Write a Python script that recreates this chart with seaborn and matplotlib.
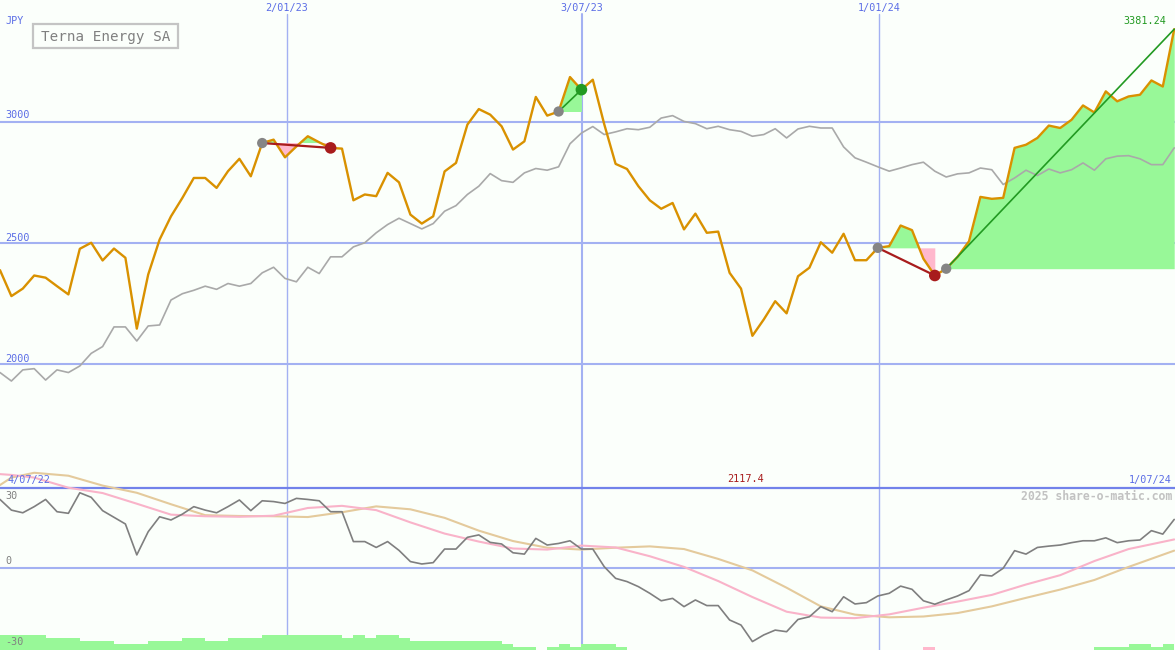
import matplotlib
matplotlib.use("Agg")
import matplotlib.pyplot as plt
from matplotlib.patches import Rectangle
import numpy as np
import seaborn as sns

# weekly closes, 4/07/22 .. 1/07/24 (JPY)
price = [2388, 2281, 2312, 2366, 2357, 2322, 2288, 2476, 2501, 2428,
         2477, 2439, 2147, 2370, 2514, 2610, 2686, 2768, 2768, 2727,
         2796, 2847, 2775, 2912, 2926, 2853, 2898, 2940, 2915, 2892,
         2889, 2676, 2700, 2693, 2789, 2750, 2617, 2580, 2610, 2795,
         2830, 2988, 3052, 3029, 2981, 2885, 2919, 3102, 3025, 3042,
         3184, 3132, 3173, 2990, 2826, 2805, 2734, 2676, 2641, 2665,
         2556, 2621, 2542, 2547, 2377, 2312, 2117.4, 2185, 2260, 2210,
         2363, 2398, 2503, 2460, 2538, 2429, 2429, 2480, 2487, 2572,
         2553, 2435, 2366, 2394, 2443, 2507, 2690, 2682, 2686, 2892,
         2905, 2933, 2984, 2974, 3008, 3067, 3038, 3125, 3084, 3104,
         3111, 3170, 3145, 3381.24]

# comparison index, rescaled to the price axis
index_line = [1966, 1931, 1977, 1982, 1935, 1977, 1966, 1993, 2045, 2073,
              2154, 2154, 2096, 2158, 2162, 2265, 2291, 2305, 2322, 2309,
              2333, 2322, 2333, 2377, 2400, 2354, 2340, 2400, 2374, 2443,
              2443, 2484, 2501, 2542, 2576, 2602, 2580, 2558, 2580, 2631,
              2654, 2700, 2734, 2786, 2757, 2750, 2789, 2807, 2800, 2814,
              2909, 2953, 2980, 2947, 2958, 2971, 2967, 2977, 3015, 3025,
              3001, 2992, 2971, 2981, 2967, 2960, 2940, 2947, 2971, 2933,
              2970, 2981, 2974, 2974, 2896, 2851, 2833, 2814, 2796, 2809,
              2823, 2833, 2796, 2772, 2785, 2789, 2809, 2802, 2741, 2768,
              2800, 2778, 2805, 2789, 2802, 2830, 2800, 2847, 2858, 2860,
              2847, 2823, 2823, 2892]

# lower panel
momentum = [25.6, 21.6, 20.6, 22.9, 25.6, 21.0, 20.4, 28.1, 26.4, 21.4,
            18.9, 16.4, 4.8, 13.5, 19.1, 17.9, 20.1, 22.9, 21.6, 20.6,
            22.9, 25.4, 21.4, 25.1, 24.8, 24.1, 26.0, 25.6, 25.1, 21.0,
            21.0, 9.8, 9.8, 7.6, 9.8, 6.5, 2.3, 1.4, 1.9, 7.0,
            7.0, 11.4, 12.3, 9.5, 8.9, 5.6, 5.1, 11.0, 8.5, 9.1,
            10.1, 7.0, 7.0, 0.4, -4.0, -5.2, -7.1, -9.6, -12.4, -11.5,
            -14.6, -12.1, -14.2, -14.2, -19.6, -21.5, -27.7, -25.2, -23.4, -24.0,
            -19.4, -18.4, -14.6, -16.5, -10.9, -13.6, -13.1, -10.6, -9.6, -6.9,
            -8.1, -12.4, -13.7, -12.1, -10.6, -8.6, -2.7, -3.1, -0.2, 6.4,
            5.1, 7.6, 8.1, 8.5, 9.4, 10.1, 10.1, 11.2, 9.4, 10.1,
            10.4, 13.9, 12.6, 18.1]

ma_weeks = [0, 1, 3, 6, 9, 12, 15, 18, 21, 24, 27, 30, 33, 36, 39, 42, 45, 48,
            51, 54, 57, 60, 63, 66, 69, 72, 75, 78, 81, 84, 87, 90, 93, 96,
            99, 103]
ma_fast = [35.1, 34.8, 33.8, 30.0, 28.0, 24.0, 19.9, 19.3, 19.1, 19.5, 22.4,
           23.2, 21.6, 17.0, 12.8, 9.8, 7.2, 6.8, 8.3, 7.6, 4.3, 0.3, -5.0,
           -11.0, -16.5, -18.7, -18.9, -17.5, -15.0, -12.7, -10.2, -6.3, -2.8,
           2.5, 7.0, 10.6]
ma_slow = [31.0, 33.8, 35.6, 34.5, 30.8, 28.1, 23.8, 19.7, 19.4, 19.3, 19.0,
           20.8, 23.0, 21.9, 18.7, 13.9, 10.0, 7.5, 6.8, 7.5, 8.0, 7.0, 3.3,
           -1.0, -7.5, -14.5, -17.6, -18.6, -18.3, -17.0, -14.5, -11.3, -8.2,
           -4.6, 0.3, 6.4]

green_bar_weeks = list(range(0, 47)) + [48, 49, 50, 51, 52, 53, 54,
                                        96, 97, 98, 99, 100, 101, 102]
green_bar_tops = ([-25.2] * 4 + [-26.3] * 3 + [-27.5] * 3 + [-28.6] * 3
                  + [-27.5] * 3 + [-26.3] * 2 + [-27.5] * 2 + [-26.3] * 3
                  + [-25.2] * 7 + [-26.3, -25.2, -26.3, -25.2, -25.2, -26.3]
                  + [-27.5] * 8 + [-28.6, -29.9, -29.9]
                  + [-29.9, -28.6, -29.9, -28.6, -28.6, -28.6, -29.9]
                  + [-29.9, -29.9, -29.9, -28.6, -28.6, -29.9, -28.6])
pink_bar_weeks = [81]
pink_bar_tops = [-29.9]

# (start week, end week) of the marked moves
trades = [(23, 29), (49, 51), (77, 82), (83, 103)]

month_marks = [25.18, 51.05, 77.13]
month_labels = ["2/01/23", "3/07/23", "1/01/24"]
month_widths = [1.0, 1.5, 1.0]
price_grid = [2000, 2500, 3000]

W, H = 1175, 650
BG = "#fbfffb"
GRID = "#a3b1f2"
BLUE_TXT = "#5b6de6"
GREEN_FILL = "#98f898"
PINK_FILL = "#ffb8cc"
DARK_RED = "#a81c1c"
DARK_GREEN = "#229a22"

sns.set_style("white")
plt.rcParams["font.family"] = ["DejaVu Sans Mono", "DejaVu Sans"]

weeks = np.arange(len(price))
price_arr = np.array(price, dtype=float)


def fp(x, y):
    """pixel -> figure fraction"""
    return x / W, 1 - y / H


fig = plt.figure(figsize=(W / 100, H / 100), dpi=100, facecolor=BG)
ax = fig.add_axes([0, 0, 1, 1])
ax.set_axis_off()
low = fig.add_axes([0, 0, 1, 1], sharex=ax)
low.set_axis_off()

# grid
for g in price_grid:
    ax.axhline(g, color=GRID, lw=1.5, zorder=1)
for m, lw in zip(month_marks, month_widths):
    ax.axvline(m, ymax=1 - 14 / H, color=GRID, lw=lw, zorder=1)
low.axhline(30, color="#7282ea", lw=1.6, zorder=1)
low.axhline(0, color=GRID, lw=1.5, zorder=1)

# move fills
for s, e in trades:
    xs = weeks[s:e + 1]
    ys = price_arr[s:e + 1]
    level = price_arr[s]
    ax.fill_between(xs, ys, level, where=ys >= level, interpolate=True,
                    color=GREEN_FILL, lw=0, zorder=2)
    ax.fill_between(xs, ys, level, where=ys < level, interpolate=True,
                    color=PINK_FILL, lw=0, zorder=2)

sns.lineplot(x=weeks, y=index_line, ax=ax, color="#a9a9a9", lw=1.2, zorder=3)
sns.lineplot(x=weeks, y=price, ax=ax, color="#d99100", lw=1.7, zorder=4)

for s, e in trades:
    up = price[e] > price[s]
    col = DARK_GREEN if up else DARK_RED
    ax.plot([s, e], [price[s], price[e]], color=col,
            lw=1.2 if up else 1.6, zorder=5)
    sns.scatterplot(x=[s], y=[price[s]], ax=ax, color="#858585", s=55,
                    edgecolor="none", zorder=6)
    if e != len(price) - 1:
        sns.scatterplot(x=[e], y=[price[e]], ax=ax, color=col, s=70,
                        edgecolor="none", zorder=6)

# lower panel
low.bar(green_bar_weeks, [t + 31 for t in green_bar_tops], bottom=-31,
        width=1, align="edge", color=GREEN_FILL, lw=0, zorder=1)
low.bar(pink_bar_weeks, [t + 31 for t in pink_bar_tops], bottom=-31,
        width=1, align="edge", color=PINK_FILL, lw=0, zorder=1)
sns.lineplot(x=ma_weeks, y=ma_slow, ax=low, color="#e4ca9c", lw=1.5, zorder=3)
sns.lineplot(x=ma_weeks, y=ma_fast, ax=low, color="#f9b3c9", lw=1.5, zorder=3)
sns.lineplot(x=weeks, y=momentum, ax=low, color="#7f7f7f", lw=1.2, zorder=4)

ax.set_xlim(0, W / 11.4)
ax.set_ylim(822.3, 3501.6)
low.set_ylim(-30.86, 212.9)

# texts
fs = 7.3
fig.text(*fp(5, 21), "JPY", color=BLUE_TXT, fontsize=fs, va="center")
for g, yp in zip(price_grid, [358.5, 238, 115.5]):
    fig.text(*fp(5, yp), str(g), color=BLUE_TXT, fontsize=fs, va="center")
for m, lab in zip(month_marks, month_labels):
    fig.text(*fp(m * 11.4, 8.5), lab, color=BLUE_TXT, fontsize=fs,
             ha="center", va="center")
fig.text(*fp(7, 479.5), "4/07/22", color=BLUE_TXT, fontsize=fs, va="center",
         zorder=0)
fig.text(*fp(1172, 479.5), "1/07/24", color=BLUE_TXT, fontsize=fs,
         ha="right", va="center")
fig.text(*fp(745.5, 479.5), "2117.4", color=DARK_RED, fontsize=fs,
         ha="center", va="center")
fig.text(*fp(1166, 21), "3381.24", color=DARK_GREEN, fontsize=fs,
         ha="right", va="center")
fig.text(*fp(1172, 496), "2025 share-o-matic.com", color="#c2c2c2",
         fontsize=8.3, fontweight="bold", ha="right", va="center")
for lab, yp in [("30", 496), ("0", 561.5), ("-30", 642)]:
    fig.text(*fp(5, yp), lab, color="#808080", fontsize=fs, va="center")

fig.add_artist(Rectangle(fp(32.5, 48), 145.5 / W, 23.5 / H,
                         transform=fig.transFigure, fill=False,
                         ec="#c4c4c4", lw=1.6))
fig.text(*fp(105.5, 36.5), "Terna Energy SA", color="#808080", fontsize=10.3,
         ha="center", va="center")

fig.savefig("out.png", dpi=100, facecolor=BG)
